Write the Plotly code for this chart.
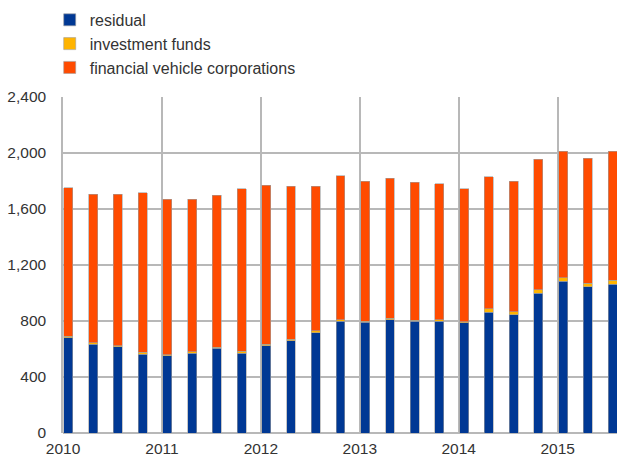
import plotly.graph_objects as go

# quarterly data, 2010 Q1 - 2015 Q3 (EUR billions)
quarters = [f"{y} Q{q}" for y in range(2010, 2016) for q in range(1, 5)][:23]
residual = [680, 633, 617, 562, 552, 571, 605, 569, 624, 660, 717, 798,
            790, 809, 798, 798, 788, 862, 843, 1000, 1083, 1045, 1062]
investment_funds = [10, 10, 8, 15, 8, 8, 8, 15, 10, 10, 15, 10,
                    8, 12, 6, 10, 8, 25, 22, 25, 25, 25, 30]
fvc = [1062, 1064, 1082, 1140, 1111, 1092, 1085, 1161, 1137, 1092, 1030, 1028,
       1002, 998, 986, 973, 949, 942, 935, 930, 904, 894, 920]
years = ["2010", "2011", "2012", "2013", "2014", "2015"]

x = list(range(len(quarters)))
edge = dict(color='#a0a0a0', width=0.6)

fig = go.Figure()
series = [
    ("residual", residual, '#003894'),
    ("investment funds", investment_funds, '#FFB400'),
    ("financial vehicle corporations", fvc, '#FF4B00'),
]
for name, vals, col in series:
    fig.add_trace(go.Bar(
        x=x, y=vals, name=name, legendgroup=name,
        marker=dict(color=col, line=edge),
        width=0.36, customdata=quarters,
        hovertemplate='%{customdata}<br>%{y:,.0f}<extra>' + name + '</extra>'
    ))

fig.update_layout(
    barmode='stack',
    width=617, height=458,
    margin=dict(l=63, r=0, t=97, b=25, autoexpand=False),
    plot_bgcolor='white', paper_bgcolor='white',
    font=dict(family='Liberation Sans, Arial, sans-serif', size=15.5, color='#333333'),
    legend=dict(x=-0.024, y=1.28, xanchor='left', yanchor='top',
                traceorder='grouped', tracegroupgap=0,
                font=dict(size=16, color='#333333'), bgcolor='rgba(0,0,0,0)'),
    showlegend=True
)

fig.update_xaxes(
    range=[-0.22, 22.18],
    tickmode='array',
    tickvals=[4 * i - 0.22 for i in range(len(years))],
    ticktext=years,
    showgrid=True, gridcolor='#b8b8b8', gridwidth=1.5,
    zeroline=False, showline=False,
    ticks='outside', ticklen=1, tickcolor='rgba(0,0,0,0)',
)
fig.update_yaxes(
    range=[0, 2400],
    tickvals=[0, 400, 800, 1200, 1600, 2000, 2400],
    tickformat=',',
    showgrid=True, gridcolor='#b8b8b8', gridwidth=1.5,
    zeroline=True, zerolinecolor='#b8b8b8', zerolinewidth=1.5,
    showline=True, linecolor='#b8b8b8', linewidth=1.5,
    ticks='outside', ticklen=12, tickcolor='rgba(0,0,0,0)',
)

# drop the page's default body margin so the 617x458 figure sits at the origin
fig.write_html("out.html", config={'displayModeBar': False},
               post_script="document.body.style.margin='0';")
